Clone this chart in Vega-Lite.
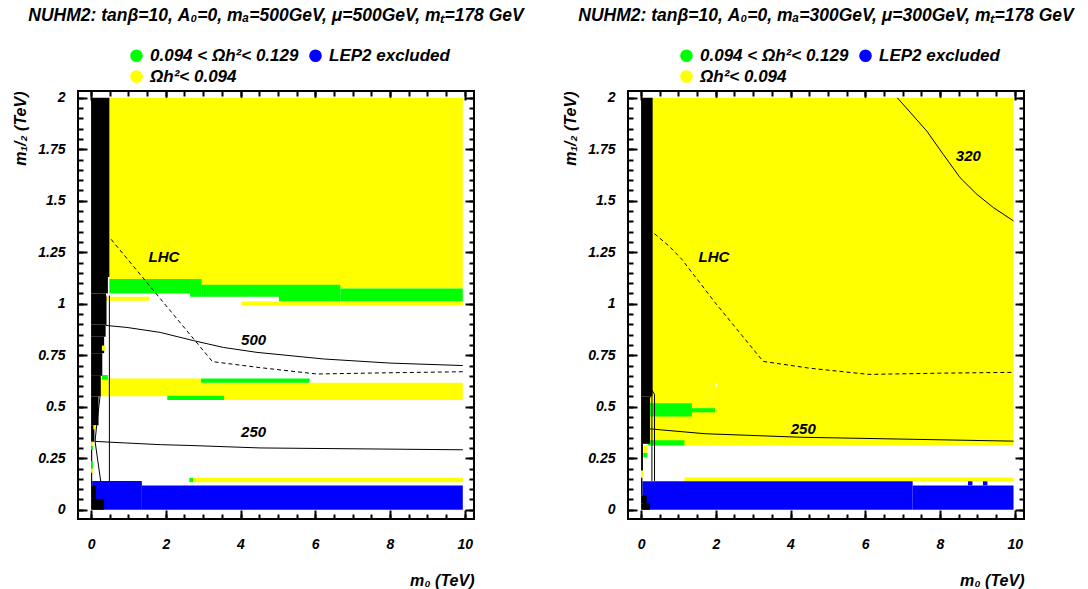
{
  "$schema": "https://vega.github.io/schema/vega-lite/v6.json",
  "padding": {"left": 10, "top": 5, "right": 0, "bottom": 0},
  "datasets": {
    "rects": [
      {"p":"L","c":"y","x":0.49,"x2":9.95,"y":1.074,"y2":2.0},
      {"p":"L","c":"g","x":0.49,"x2":2.65,"y":1.05,"y2":1.12},
      {"p":"L","c":"g","x":2.65,"x2":2.96,"y":1.034,"y2":1.12},
      {"p":"L","c":"g","x":2.96,"x2":5.03,"y":1.034,"y2":1.092},
      {"p":"L","c":"g","x":5.03,"x2":6.67,"y":1.011,"y2":1.092},
      {"p":"L","c":"g","x":6.67,"x2":9.95,"y":1.011,"y2":1.074},
      {"p":"L","c":"y","x":0.40,"x2":1.56,"y":1.015,"y2":1.034},
      {"p":"L","c":"y","x":4.03,"x2":9.95,"y":0.992,"y2":1.011},
      {"p":"L","c":"y","x":0.24,"x2":2.94,"y":0.551,"y2":0.637},
      {"p":"L","c":"y","x":2.94,"x2":9.95,"y":0.533,"y2":0.616},
      {"p":"L","c":"g","x":2.94,"x2":5.85,"y":0.616,"y2":0.637},
      {"p":"L","c":"g","x":2.04,"x2":3.56,"y":0.533,"y2":0.554},
      {"p":"L","c":"g","x":2.63,"x2":2.74,"y":0.134,"y2":0.155},
      {"p":"L","c":"y","x":2.74,"x2":9.95,"y":0.134,"y2":0.155},
      {"p":"L","c":"b","x":0.03,"x2":1.36,"y":0,"y2":0.139},
      {"p":"L","c":"b","x":1.36,"x2":9.95,"y":0,"y2":0.118},
      {"p":"L","c":"k","x":0,"x2":0.49,"y":1.13,"y2":2.0},
      {"p":"L","c":"k","x":0,"x2":0.45,"y":1.05,"y2":1.13},
      {"p":"L","c":"k","x":0,"x2":0.40,"y":0.90,"y2":1.05},
      {"p":"L","c":"k","x":0,"x2":0.39,"y":0.84,"y2":0.90},
      {"p":"L","c":"k","x":0,"x2":0.35,"y":0.76,"y2":0.84},
      {"p":"L","c":"k","x":0,"x2":0.30,"y":0.65,"y2":0.76},
      {"p":"L","c":"k","x":0,"x2":0.26,"y":0.55,"y2":0.65},
      {"p":"L","c":"k","x":0,"x2":0.20,"y":0.41,"y2":0.55},
      {"p":"L","c":"k","x":0,"x2":0.09,"y":0.33,"y2":0.41},
      {"p":"L","c":"k","x":0,"x2":0.03,"y":0.118,"y2":0.33},
      {"p":"L","c":"k","x":0,"x2":0.13,"y":0.053,"y2":0.118},
      {"p":"L","c":"k","x":0,"x2":0.35,"y":0,"y2":0.053},
      {"p":"L","c":"y","x":0.29,"x2":0.37,"y":0.772,"y2":0.797},
      {"p":"L","c":"g","x":0.29,"x2":0.45,"y":0.632,"y2":0.654},
      {"p":"L","c":"y","x":0.06,"x2":0.15,"y":0.39,"y2":0.41},
      {"p":"L","c":"y","x":0,"x2":0.05,"y":0.31,"y2":0.33},
      {"p":"L","c":"g","x":0,"x2":0.05,"y":0.29,"y2":0.31},
      {"p":"L","c":"g","x":0,"x2":0.05,"y":0.20,"y2":0.236},
      {"p":"L","c":"y","x":0,"x2":0.05,"y":0.18,"y2":0.20},
      {"p":"R","c":"y","x":0.18,"x2":9.97,"y":0.312,"y2":2.0},
      {"p":"R","c":"y","x":0.06,"x2":0.17,"y":0.276,"y2":0.312},
      {"p":"R","c":"g","x":0.06,"x2":0.17,"y":0.254,"y2":0.276},
      {"p":"R","c":"y","x":0,"x2":0.06,"y":0.155,"y2":0.191},
      {"p":"R","c":"g","x":0.24,"x2":1.36,"y":0.453,"y2":0.517},
      {"p":"R","c":"g","x":1.36,"x2":1.98,"y":0.473,"y2":0.493},
      {"p":"R","c":"g","x":0.18,"x2":1.16,"y":0.312,"y2":0.337},
      {"p":"R","c":"w","x":1.98,"x2":2.04,"y":0.598,"y2":0.612},
      {"p":"R","c":"y","x":1.16,"x2":9.97,"y":0.138,"y2":0.157},
      {"p":"R","c":"b","x":0.036,"x2":7.27,"y":0,"y2":0.138},
      {"p":"R","c":"b","x":7.27,"x2":9.97,"y":0,"y2":0.118},
      {"p":"R","c":"b","x":8.75,"x2":8.87,"y":0.118,"y2":0.138},
      {"p":"R","c":"b","x":9.15,"x2":9.27,"y":0.118,"y2":0.138},
      {"p":"R","c":"k","x":0,"x2":0.31,"y":0.55,"y2":2.0},
      {"p":"R","c":"k","x":0,"x2":0.24,"y":0.32,"y2":0.55},
      {"p":"R","c":"k","x":0,"x2":0.05,"y":0.191,"y2":0.32},
      {"p":"R","c":"k","x":0,"x2":0.036,"y":0.07,"y2":0.155},
      {"p":"R","c":"k","x":0,"x2":0.15,"y":0.03,"y2":0.07},
      {"p":"R","c":"k","x":0,"x2":0.24,"y":0,"y2":0.03}
    ],
    "lines": [
      {"p":"L","s":"500","i":1,"x":0.40,"y":1.04},
      {"p":"L","s":"500","i":2,"x":0.40,"y":0.895},
      {"p":"L","s":"500","i":3,"x":0.50,"y":0.893},
      {"p":"L","s":"500","i":4,"x":0.96,"y":0.885},
      {"p":"L","s":"500","i":5,"x":1.85,"y":0.861},
      {"p":"L","s":"500","i":6,"x":2.74,"y":0.821},
      {"p":"L","s":"500","i":7,"x":3.54,"y":0.788},
      {"p":"L","s":"500","i":8,"x":4.44,"y":0.764},
      {"p":"L","s":"500","i":9,"x":6.22,"y":0.732},
      {"p":"L","s":"500","i":10,"x":8.0,"y":0.712},
      {"p":"L","s":"500","i":11,"x":9.95,"y":0.70},
      {"p":"L","s":"v500","i":1,"x":0.49,"y":1.04},
      {"p":"L","s":"v500","i":2,"x":0.49,"y":0.135},
      {"p":"L","s":"250","i":1,"x":0.24,"y":0.55},
      {"p":"L","s":"250","i":2,"x":0.15,"y":0.41},
      {"p":"L","s":"250","i":3,"x":0.107,"y":0.332},
      {"p":"L","s":"250","i":4,"x":0.50,"y":0.328},
      {"p":"L","s":"250","i":5,"x":1.85,"y":0.316},
      {"p":"L","s":"250","i":6,"x":2.65,"y":0.312},
      {"p":"L","s":"250","i":7,"x":4.52,"y":0.30},
      {"p":"L","s":"250","i":8,"x":9.95,"y":0.291},
      {"p":"L","s":"v250","i":1,"x":0.107,"y":0.332},
      {"p":"L","s":"v250","i":2,"x":0.26,"y":0.135},
      {"p":"L","s":"LHC","i":1,"x":0.535,"y":1.313},
      {"p":"L","s":"LHC","i":2,"x":3.25,"y":0.719},
      {"p":"L","s":"LHC","i":3,"x":4.52,"y":0.69},
      {"p":"L","s":"LHC","i":4,"x":6.04,"y":0.659},
      {"p":"L","s":"LHC","i":5,"x":8.0,"y":0.665},
      {"p":"L","s":"LHC","i":6,"x":9.95,"y":0.670},
      {"p":"R","s":"250","i":1,"x":0.36,"y":0.14},
      {"p":"R","s":"250","i":2,"x":0.36,"y":0.56},
      {"p":"R","s":"250","i":3,"x":0.29,"y":0.58},
      {"p":"R","s":"250","i":4,"x":0.21,"y":0.53},
      {"p":"R","s":"250","i":5,"x":0.21,"y":0.393},
      {"p":"R","s":"250","i":6,"x":1.71,"y":0.369},
      {"p":"R","s":"250","i":7,"x":4.26,"y":0.352},
      {"p":"R","s":"250","i":8,"x":9.97,"y":0.333},
      {"p":"R","s":"v250","i":1,"x":0.29,"y":0.14},
      {"p":"R","s":"v250","i":2,"x":0.29,"y":0.55},
      {"p":"R","s":"320","i":1,"x":6.86,"y":2.0},
      {"p":"R","s":"320","i":2,"x":7.65,"y":1.838},
      {"p":"R","s":"320","i":3,"x":8.09,"y":1.725},
      {"p":"R","s":"320","i":4,"x":8.54,"y":1.612},
      {"p":"R","s":"320","i":5,"x":8.99,"y":1.531},
      {"p":"R","s":"320","i":6,"x":9.43,"y":1.467},
      {"p":"R","s":"320","i":7,"x":9.97,"y":1.402},
      {"p":"R","s":"LHC","i":1,"x":0.36,"y":1.34},
      {"p":"R","s":"LHC","i":2,"x":0.75,"y":1.28},
      {"p":"R","s":"LHC","i":3,"x":1.09,"y":1.216},
      {"p":"R","s":"LHC","i":4,"x":1.98,"y":1.006},
      {"p":"R","s":"LHC","i":5,"x":3.27,"y":0.72},
      {"p":"R","s":"LHC","i":6,"x":4.52,"y":0.687},
      {"p":"R","s":"LHC","i":7,"x":6.1,"y":0.657},
      {"p":"R","s":"LHC","i":8,"x":8.0,"y":0.663},
      {"p":"R","s":"LHC","i":9,"x":9.97,"y":0.667}
    ],
    "labels": [
      {"p":"L","t":"LHC","x":1.95,"y":1.228},
      {"p":"L","t":"500","x":4.35,"y":0.826},
      {"p":"L","t":"250","x":4.35,"y":0.376},
      {"p":"R","t":"LHC","x":1.95,"y":1.226},
      {"p":"R","t":"320","x":8.76,"y":1.717},
      {"p":"R","t":"250","x":4.34,"y":0.392}
    ]
  },
  "hconcat": [
    {
      "width": 396, "height": 428,
      "title": {"text": "NUHM2: tanβ=10, A₀=0, mₐ=500GeV, μ=500GeV, mₜ=178 GeV", "anchor": "middle", "frame": "group", "offset": 23},
      "resolve": {"axis": {"x": "independent", "y": "independent"}},
      "layer": [
        {
          "data": {"name": "rects"},
          "transform": [{"filter": "datum.p == 'L'"}],
          "mark": {"type": "rect"},
          "encoding": {
            "x": {"field": "x", "type": "quantitative", "scale": {"domain": [-0.35, 10.25], "nice": false, "zero": false},
              "axis": {"orient": "bottom", "values": [0,2,4,6,8,10], "offset": -9, "tickSize": 9, "labelPadding": 18, "labelFlush": false, "labelOverlap": false, "labelExpr": "'' + datum.value", "title": "m₀ (TeV)", "titleX": 396, "titleY": 70, "titleAlign": "right", "titleBaseline": "middle"}},
            "x2": {"field": "x2"},
            "y": {"field": "y", "type": "quantitative", "scale": {"domain": [-0.045, 2.033], "nice": false, "zero": false},
              "axis": {"orient": "left", "values": [0,0.25,0.5,0.75,1,1.25,1.5,1.75,2], "offset": -9, "tickSize": 9, "labelPadding": 13, "labelFlush": false, "labelOverlap": false, "labelExpr": "'' + datum.value", "title": "m₁/₂ (TeV)", "titleX": -67, "titleY": 0, "titleAngle": -90, "titleAlign": "right", "titleBaseline": "middle"}},
            "y2": {"field": "y2"},
            "color": {"field": "c", "type": "nominal",
              "scale": {"domain": ["g","b","y","k","w"], "range": ["#00ff00","#0000ff","#ffff00","#000000","#ffffff"]},
              "legend": {"orient": "none", "legendX": 50, "legendY": -44, "columns": 2, "values": ["g","y","b"], "title": null,
                "labelExpr": "datum.label == 'g' ? '0.094 < Ωh²< 0.129' : (datum.label == 'b' ? 'LEP2 excluded' : 'Ωh²< 0.094')"}}
          }
        },
        {
          "data": {"name": "lines"},
          "transform": [{"filter": "datum.p == 'L' && datum.s != 'LHC'"}],
          "mark": {"type": "line", "color": "black", "strokeWidth": 1},
          "encoding": {
            "x": {"field": "x", "type": "quantitative", "axis": {"orient": "bottom", "values": [0,0.5,1,1.5,2,2.5,3,3.5,4,4.5,5,5.5,6,6.5,7,7.5,8,8.5,9,9.5,10], "offset": -5, "tickSize": 5, "labels": false, "title": null}},
            "y": {"field": "y", "type": "quantitative", "axis": {"orient": "left", "values": [0,0.05,0.1,0.15,0.2,0.25,0.3,0.35,0.4,0.45,0.5,0.55,0.6,0.65,0.7,0.75,0.8,0.85,0.9,0.95,1,1.05,1.1,1.15,1.2,1.25,1.3,1.35,1.4,1.45,1.5,1.55,1.6,1.65,1.7,1.75,1.8,1.85,1.9,1.95,2], "offset": -5, "tickSize": 5, "labels": false, "title": null}},
            "detail": {"field": "s"},
            "order": {"field": "i", "type": "quantitative"}
          }
        },
        {
          "data": {"name": "lines"},
          "transform": [{"filter": "datum.p == 'L' && datum.s == 'LHC'"}],
          "mark": {"type": "line", "color": "black", "strokeWidth": 1, "strokeDash": [4, 3]},
          "encoding": {
            "x": {"field": "x", "type": "quantitative", "axis": {"orient": "top", "values": [0,2,4,6,8,10], "offset": -9, "tickSize": 9, "labels": false, "title": null}},
            "y": {"field": "y", "type": "quantitative", "axis": {"orient": "right", "values": [0,0.25,0.5,0.75,1,1.25,1.5,1.75,2], "offset": -9, "tickSize": 9, "labels": false, "title": null}},
            "order": {"field": "i", "type": "quantitative"}
          }
        },
        {
          "data": {"name": "labels"},
          "transform": [{"filter": "datum.p == 'L'"}],
          "mark": {"type": "text", "font": "Liberation Sans", "fontSize": 15, "fontWeight": "bold", "fontStyle": "italic", "color": "black", "align": "center", "baseline": "middle"},
          "encoding": {
            "x": {"field": "x", "type": "quantitative", "axis": {"orient": "top", "values": [0,0.5,1,1.5,2,2.5,3,3.5,4,4.5,5,5.5,6,6.5,7,7.5,8,8.5,9,9.5,10], "offset": -5, "tickSize": 5, "labels": false, "title": null}},
            "y": {"field": "y", "type": "quantitative", "axis": {"orient": "right", "values": [0,0.05,0.1,0.15,0.2,0.25,0.3,0.35,0.4,0.45,0.5,0.55,0.6,0.65,0.7,0.75,0.8,0.85,0.9,0.95,1,1.05,1.1,1.15,1.2,1.25,1.3,1.35,1.4,1.45,1.5,1.55,1.6,1.65,1.7,1.75,1.8,1.85,1.9,1.95,2], "offset": -5, "tickSize": 5, "labels": false, "title": null}},
            "text": {"field": "t"}
          }
        }
      ]
    },
    {
      "width": 396, "height": 428,
      "title": {"text": "NUHM2: tanβ=10, A₀=0, mₐ=300GeV, μ=300GeV, mₜ=178 GeV", "anchor": "middle", "frame": "group", "offset": 23},
      "resolve": {"axis": {"x": "independent", "y": "independent"}},
      "layer": [
        {
          "data": {"name": "rects"},
          "transform": [{"filter": "datum.p == 'R'"}],
          "mark": {"type": "rect"},
          "encoding": {
            "x": {"field": "x", "type": "quantitative", "scale": {"domain": [-0.35, 10.25], "nice": false, "zero": false},
              "axis": {"orient": "bottom", "values": [0,2,4,6,8,10], "offset": -9, "tickSize": 9, "labelPadding": 18, "labelFlush": false, "labelOverlap": false, "labelExpr": "'' + datum.value", "title": "m₀ (TeV)", "titleX": 396, "titleY": 70, "titleAlign": "right", "titleBaseline": "middle"}},
            "x2": {"field": "x2"},
            "y": {"field": "y", "type": "quantitative", "scale": {"domain": [-0.045, 2.033], "nice": false, "zero": false},
              "axis": {"orient": "left", "values": [0,0.25,0.5,0.75,1,1.25,1.5,1.75,2], "offset": -9, "tickSize": 9, "labelPadding": 13, "labelFlush": false, "labelOverlap": false, "labelExpr": "'' + datum.value", "title": "m₁/₂ (TeV)", "titleX": -67, "titleY": 0, "titleAngle": -90, "titleAlign": "right", "titleBaseline": "middle"}},
            "y2": {"field": "y2"},
            "color": {"field": "c", "type": "nominal",
              "scale": {"domain": ["g","b","y","k","w"], "range": ["#00ff00","#0000ff","#ffff00","#000000","#ffffff"]},
              "legend": {"orient": "none", "legendX": 50, "legendY": -44, "columns": 2, "values": ["g","y","b"], "title": null,
                "labelExpr": "datum.label == 'g' ? '0.094 < Ωh²< 0.129' : (datum.label == 'b' ? 'LEP2 excluded' : 'Ωh²< 0.094')"}}
          }
        },
        {
          "data": {"name": "lines"},
          "transform": [{"filter": "datum.p == 'R' && datum.s != 'LHC'"}],
          "mark": {"type": "line", "color": "black", "strokeWidth": 1},
          "encoding": {
            "x": {"field": "x", "type": "quantitative", "axis": {"orient": "bottom", "values": [0,0.5,1,1.5,2,2.5,3,3.5,4,4.5,5,5.5,6,6.5,7,7.5,8,8.5,9,9.5,10], "offset": -5, "tickSize": 5, "labels": false, "title": null}},
            "y": {"field": "y", "type": "quantitative", "axis": {"orient": "left", "values": [0,0.05,0.1,0.15,0.2,0.25,0.3,0.35,0.4,0.45,0.5,0.55,0.6,0.65,0.7,0.75,0.8,0.85,0.9,0.95,1,1.05,1.1,1.15,1.2,1.25,1.3,1.35,1.4,1.45,1.5,1.55,1.6,1.65,1.7,1.75,1.8,1.85,1.9,1.95,2], "offset": -5, "tickSize": 5, "labels": false, "title": null}},
            "detail": {"field": "s"},
            "order": {"field": "i", "type": "quantitative"}
          }
        },
        {
          "data": {"name": "lines"},
          "transform": [{"filter": "datum.p == 'R' && datum.s == 'LHC'"}],
          "mark": {"type": "line", "color": "black", "strokeWidth": 1, "strokeDash": [4, 3]},
          "encoding": {
            "x": {"field": "x", "type": "quantitative", "axis": {"orient": "top", "values": [0,2,4,6,8,10], "offset": -9, "tickSize": 9, "labels": false, "title": null}},
            "y": {"field": "y", "type": "quantitative", "axis": {"orient": "right", "values": [0,0.25,0.5,0.75,1,1.25,1.5,1.75,2], "offset": -9, "tickSize": 9, "labels": false, "title": null}},
            "order": {"field": "i", "type": "quantitative"}
          }
        },
        {
          "data": {"name": "labels"},
          "transform": [{"filter": "datum.p == 'R'"}],
          "mark": {"type": "text", "font": "Liberation Sans", "fontSize": 15, "fontWeight": "bold", "fontStyle": "italic", "color": "black", "align": "center", "baseline": "middle"},
          "encoding": {
            "x": {"field": "x", "type": "quantitative", "axis": {"orient": "top", "values": [0,0.5,1,1.5,2,2.5,3,3.5,4,4.5,5,5.5,6,6.5,7,7.5,8,8.5,9,9.5,10], "offset": -5, "tickSize": 5, "labels": false, "title": null}},
            "y": {"field": "y", "type": "quantitative", "axis": {"orient": "right", "values": [0,0.05,0.1,0.15,0.2,0.25,0.3,0.35,0.4,0.45,0.5,0.55,0.6,0.65,0.7,0.75,0.8,0.85,0.9,0.95,1,1.05,1.1,1.15,1.2,1.25,1.3,1.35,1.4,1.45,1.5,1.55,1.6,1.65,1.7,1.75,1.8,1.85,1.9,1.95,2], "offset": -5, "tickSize": 5, "labels": false, "title": null}},
            "text": {"field": "t"}
          }
        }
      ]
    }
  ],
  "spacing": 154,
  "bounds": "flush",
  "resolve": {"legend": {"color": "independent"}},
  "config": {
    "font": "Liberation Sans",
    "view": {"stroke": "black", "strokeWidth": 2},
    "axis": {"grid": false, "domain": false, "zindex": 2, "tickColor": "black", "tickWidth": 2, "tickOpacity": 1,
      "labelFont": "Liberation Sans", "labelFontSize": 14, "labelFontWeight": "bold", "labelFontStyle": "italic", "labelColor": "black",
      "titleFont": "Liberation Sans", "titleFontSize": 16, "titleFontWeight": "bold", "titleFontStyle": "italic", "titleColor": "black"},
    "legend": {"symbolType": "circle", "symbolSize": 160, "symbolStrokeWidth": 0, "symbolOpacity": 1,
      "labelFont": "Liberation Sans", "labelFontSize": 17, "labelFontWeight": "bold", "labelFontStyle": "italic", "labelColor": "black",
      "labelLimit": 400, "labelOffset": 5, "columnPadding": 8, "rowPadding": 3, "padding": 0},
    "title": {"font": "Liberation Sans", "fontSize": 17.5, "fontWeight": "bold", "fontStyle": "italic", "color": "black"}
  }
}
